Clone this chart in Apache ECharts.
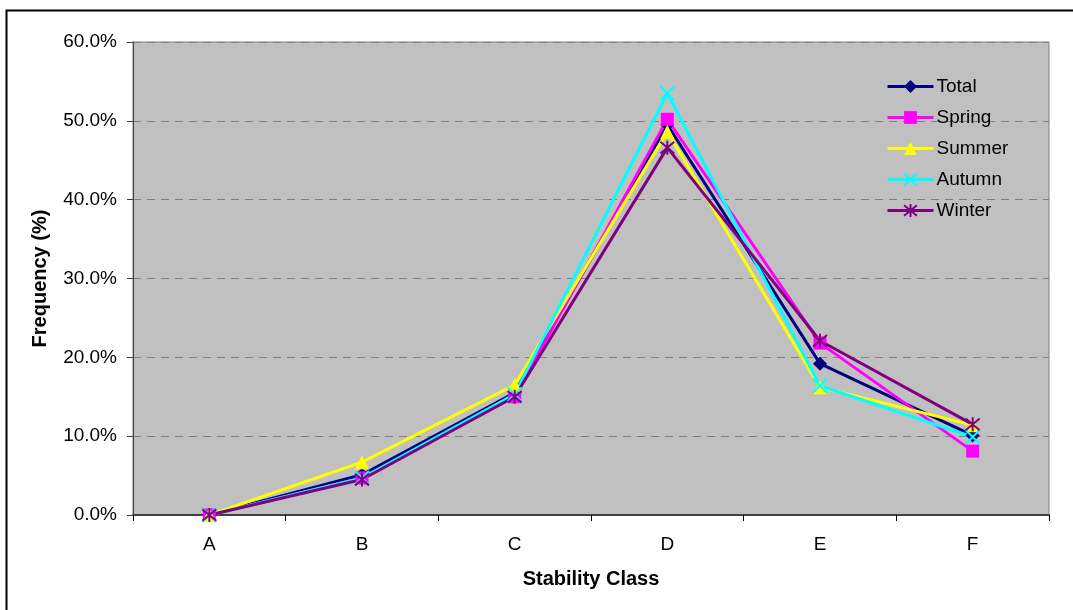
<!DOCTYPE html>
<html>
<head>
<meta charset="utf-8">
<script src="https://cdn.jsdelivr.net/npm/echarts@6/dist/echarts.min.js"></script>
<style>
html,body{margin:0;padding:0;background:#fff;}
#chart{width:1073px;height:610px;}
</style>
</head>
<body>
<div id="chart"></div>
<script>
const categories = ['A', 'B', 'C', 'D', 'E', 'F'];
const total  = [0.0, 5.1, 15.5, 49.5, 19.2, 10.1];
const spring = [0.0, 4.7, 15.0, 50.2, 21.8, 8.1];
const summer = [0.0, 6.7, 16.5, 48.6, 16.2, 11.4];
const autumn = [0.0, 4.7, 15.3, 53.5, 16.4, 9.9];
const winter = [0.0, 4.5, 15.0, 46.6, 22.1, 11.5];
const yTicks = [0, 10, 20, 30, 40, 50, 60];

const diamond = 'path://M0,-1L1,0L0,1L-1,0Z';
const xMark = 'path://M-1,-1L1,1M1,-1L-1,1';
const star = 'path://M-1,-1L1,1M1,-1L-1,1M0,-1.2L0,1.2';

const font = 'Arial, "Liberation Sans", sans-serif';

function mk(name, data, color, symbol, size, extra) {
  return Object.assign({
    name: name, type: 'line', data: data,
    symbol: symbol, symbolSize: size,
    lineStyle: {color: color, width: 3},
    itemStyle: {color: color, borderColor: color, borderWidth: 0},
    emphasis: {disabled: true},
    animation: false
  }, extra || {});
}

const chart = echarts.init(document.getElementById('chart'));
chart.setOption({
  backgroundColor: '#ffffff',
  animation: false,
  graphic: [{
    type: 'rect', shape: {x: 6.5, y: 10.5, width: 1200, height: 800},
    style: {fill: 'none', stroke: '#000', lineWidth: 2}, silent: true, z: -10
  }],
  grid: {left: 133, right: 24, top: 42, bottom: 95, show: true, backgroundColor: '#c0c0c0', borderColor: '#808080', borderWidth: 1},
  legend: {
    left: 881, top: 72, orient: 'vertical', itemGap: 12, itemWidth: 46, itemHeight: 16,
    textStyle: {fontFamily: font, fontSize: 19, color: '#000', padding: [0,0,0,-2]},
    lineStyle: {width: 3},
    data: ['Total', 'Spring', 'Summer', 'Autumn', 'Winter'],
    backgroundColor: 'transparent'
  },
  xAxis: {
    type: 'category', data: categories, boundaryGap: true,
    name: 'Stability Class', nameLocation: 'middle', nameGap: 54,
    nameTextStyle: {fontFamily: font, fontSize: 20, fontWeight: 'bold', color: '#000'},
    axisLine: {lineStyle: {color: '#404040', width: 2}},
    axisTick: {show: true, alignWithLabel: false, length: 6, lineStyle: {color: '#000'}},
    axisLabel: {fontFamily: font, fontSize: 19, color: '#000', margin: 20},
    splitLine: {show: false}
  },
  yAxis: {
    type: 'value', min: 0, max: 60, interval: 10,
    name: 'Frequency (%)', nameLocation: 'middle', nameGap: 83, nameRotate: 90,
    nameTextStyle: {fontFamily: font, fontSize: 20, fontWeight: 'bold', color: '#000'},
    axisLine: {show: true, lineStyle: {color: '#404040', width: 1}},
    axisTick: {show: true, length: 6, lineStyle: {color: '#404040'}},
    axisLabel: {fontFamily: font, fontSize: 19, color: '#000', margin: 16,
      formatter: function(v){ return yTicks.indexOf(v) >= 0 ? v.toFixed(1) + '%' : ''; }},
    splitLine: {show: true, lineStyle: {color: '#808080', type: [8, 6], width: 1}}
  },
  series: [
    mk('Total', total, '#000080', diamond, 14),
    mk('Spring', spring, '#ff00ff', 'rect', 13),
    mk('Summer', summer, '#ffff00', 'triangle', 14),
    mk('Autumn', autumn, '#00ffff', xMark, 14, {itemStyle: {color: 'none', borderColor: '#00ffff', borderWidth: 2}}),
    mk('Winter', winter, '#800080', star, 14, {itemStyle: {color: 'none', borderColor: '#800080', borderWidth: 2}})
  ]
});
</script>
</body>
</html>
